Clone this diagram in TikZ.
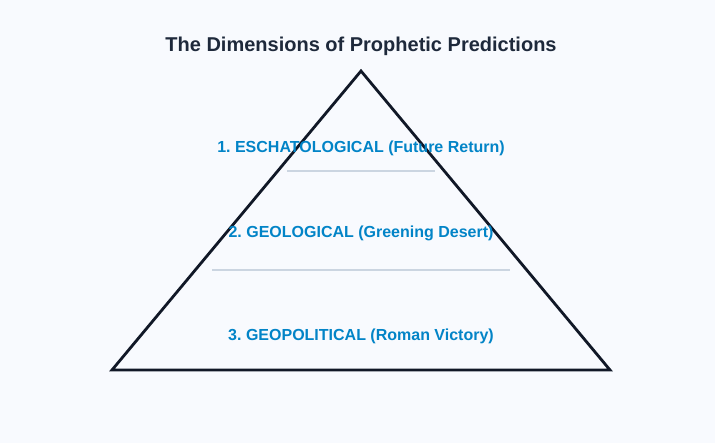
\documentclass[tikz,border=0pt]{standalone}
\usepackage{fontspec}
\setmainfont{Liberation Sans}
\frenchspacing
\definecolor{bgc}{HTML}{F8FAFE}
\definecolor{titlec}{HTML}{1E293B}
\definecolor{labelc}{HTML}{0284C7}
\definecolor{edgec}{HTML}{111827}
\definecolor{sepc}{HTML}{CBD5E1}
\begin{document}
\begin{tikzpicture}[x=1pt,y=-1pt,
  lbl/.style={text=labelc,font=\fontsize{16}{18}\selectfont\bfseries\frenchspacing,inner sep=0pt,anchor=center},
  sep/.style={draw=sepc,line width=2pt},
  tri/.style={draw=edgec,line width=2.8pt,line join=miter}]
\fill[bgc] (0,0) rectangle (715,443);
\useasboundingbox (0,0) rectangle (715,443);
\node[text=titlec,font=\fontsize{20}{22}\selectfont\bfseries,inner sep=0pt] (title) at (361,46) {The Dimensions of Prophetic Predictions};
\coordinate (apex) at (361,71);
\coordinate (bl) at (112,370);
\coordinate (br) at (610,370);
\draw[tri] (apex) -- (br) -- (bl) -- cycle;
\coordinate (s1a) at (287,171);
\coordinate (s1b) at (435,171);
\coordinate (s2a) at (212,270);
\coordinate (s2b) at (510,270);
\draw[sep] (s1a) -- (s1b);
\draw[sep] (s2a) -- (s2b);
\node[lbl] (l1) at (361,148) {1. ESCHATOLOGICAL (Future Return)};
\node[lbl] (l2) at (361,233) {2. GEOLOGICAL (Greening Desert)};
\node[lbl] (l3) at (361,336) {3. GEOPOLITICAL (Roman Victory)};
\end{tikzpicture}
\end{document}
